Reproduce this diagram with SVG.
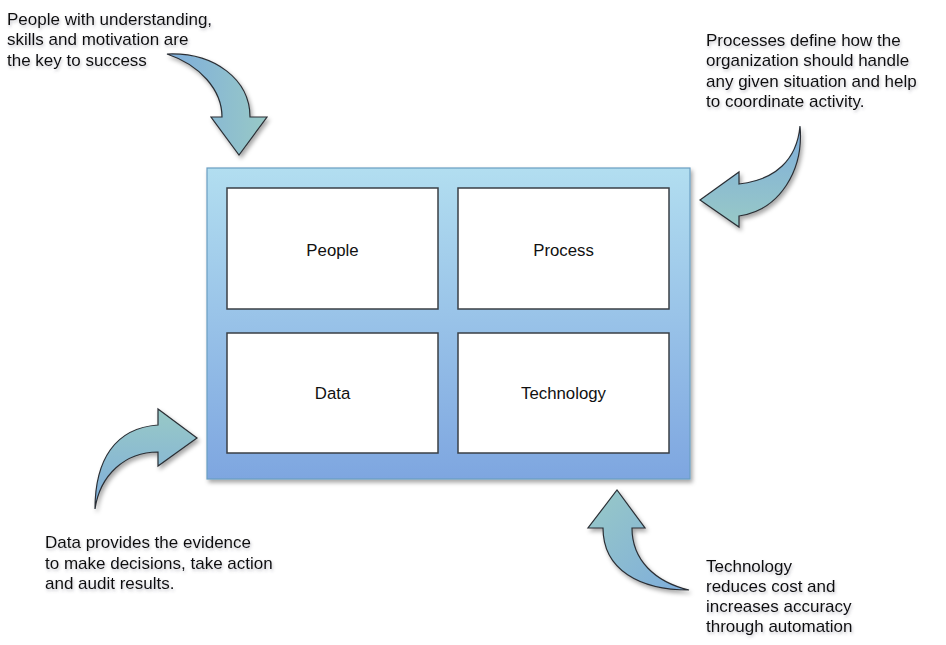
<svg xmlns="http://www.w3.org/2000/svg" width="946" height="645" viewBox="0 0 946 645">
<defs>
<linearGradient id="bg" x1="0" y1="0" x2="0" y2="1">
<stop offset="0" stop-color="#b2def0"/>
<stop offset="1" stop-color="#7ea6e0"/>
</linearGradient>
<linearGradient id="a1" x1="0" y1="0" x2="1" y2="0">
<stop offset="0" stop-color="#7eaddc"/>
<stop offset="1" stop-color="#98c9c6"/>
</linearGradient>
<linearGradient id="a2" x1="0" y1="0" x2="0" y2="1">
<stop offset="0" stop-color="#7eaddc"/>
<stop offset="1" stop-color="#98c9c6"/>
</linearGradient>
<linearGradient id="a3" x1="0" y1="0" x2="0" y2="1">
<stop offset="0" stop-color="#98c9c6"/>
<stop offset="1" stop-color="#7eaddc"/>
</linearGradient>
<linearGradient id="a4" x1="0" y1="0" x2="1" y2="1">
<stop offset="0" stop-color="#98c9c6"/>
<stop offset="1" stop-color="#7eaddc"/>
</linearGradient>
<filter id="sh" x="-20%" y="-20%" width="150%" height="150%">
<feDropShadow dx="2" dy="3" stdDeviation="2" flood-color="#000" flood-opacity="0.35"/>
</filter>
<filter id="tsh" x="-10%" y="-30%" width="130%" height="180%">
<feDropShadow dx="1" dy="2" stdDeviation="1.5" flood-color="#556" flood-opacity="0.35"/>
</filter>
<style>
text{font-family:"Liberation Sans",Arial,sans-serif;fill:#111;}
.ann{font-size:17px;filter:url(#tsh);}
.lbl{font-size:16.8px;text-anchor:middle;}
.box{fill:#fff;stroke:#3a3f45;stroke-width:1.5;}
.arr{stroke:#2a2f35;stroke-width:1.2;filter:url(#sh);}
</style>
</defs>

<g id="frame">
<rect x="207" y="168" width="483" height="311" fill="url(#bg)" stroke="#6a9ec2" stroke-width="1.2" filter="url(#sh)"/>
</g>

<g id="people">
<rect class="box" x="227" y="188" width="211" height="121"/>
<text class="lbl" x="332.5" y="256">People</text>
</g>
<g id="process">
<rect class="box" x="458" y="188" width="211" height="121"/>
<text class="lbl" x="563.5" y="256">Process</text>
</g>
<g id="data">
<rect class="box" x="227" y="333" width="211" height="120"/>
<text class="lbl" x="332.5" y="399">Data</text>
</g>
<g id="technology">
<rect class="box" x="458" y="333" width="211" height="120"/>
<text class="lbl" x="563.5" y="399">Technology</text>
</g>

<g id="connectors">
<path class="arr" fill="url(#a1)" d="M167,54 C215,52 250,80 250,117 L267,117 L239,155 L211,117 L222,117 C222,90 200,65 167,54 Z"/>
<path class="arr" fill="url(#a2)" d="M800,126 C804,170 780,210 739,216 L739,227 L700,200 L739,172 L739,184 C775,180 797,160 800,126 Z"/>
<path class="arr" fill="url(#a3)" d="M95,509 C95,460 115,428 158,425 L158,409 L197,438 L158,466 L158,452 C125,452 100,475 95,509 Z"/>
<path class="arr" fill="url(#a4)" d="M689,590 C640,590 603,570 603,528 L588,528 L617,490 L645,528 L632,528 C632,560 655,582 689,590 Z"/>
</g>

<g id="notes">
<text class="ann" x="7" y="25">People with understanding,</text>
<text class="ann" x="7" y="45">skills and motivation are</text>
<text class="ann" x="7" y="66">the key to success</text>

<text class="ann" x="706" y="46">Processes define how the</text>
<text class="ann" x="706" y="66">organization should handle</text>
<text class="ann" x="706" y="87">any given situation and help</text>
<text class="ann" x="706" y="107">to coordinate activity.</text>

<text class="ann" x="45" y="548">Data provides the evidence</text>
<text class="ann" x="45" y="569">to make decisions, take action</text>
<text class="ann" x="45" y="589">and audit results.</text>

<text class="ann" x="706" y="572">Technology</text>
<text class="ann" x="706" y="592">reduces cost and</text>
<text class="ann" x="706" y="612">increases accuracy</text>
<text class="ann" x="706" y="632">through automation</text>
</g>
</svg>
